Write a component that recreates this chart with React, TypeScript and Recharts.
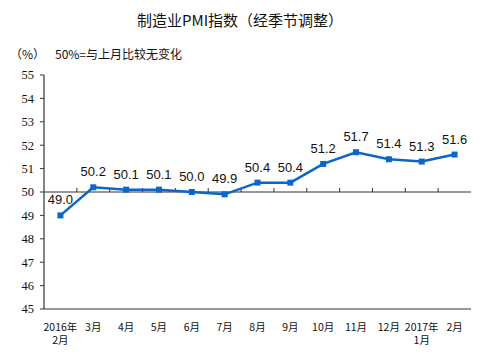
import { LabelList, Line, LineChart, ReferenceLine, XAxis, YAxis } from 'recharts';

const months = [
  '2016年\n2月',
  '3月',
  '4月',
  '5月',
  '6月',
  '7月',
  '8月',
  '9月',
  '10月',
  '11月',
  '12月',
  '2017年\n1月',
  '2月',
];

const pmi = [49.0, 50.2, 50.1, 50.1, 50.0, 49.9, 50.4, 50.4, 51.2, 51.7, 51.4, 51.3, 51.6];

const yTicks = [45, 46, 47, 48, 49, 50, 51, 52, 53, 54, 55];

const data = months.map((month, i) => ({ month, pmi: pmi[i] }));

const axisColor = '#333333';
const lineColor = '#0a66c8';

function MonthTick(props: any) {
  const { x, y, payload } = props;
  const lines = String(payload.value).split('\n');
  return (
    <g>
      {lines.map((l, i) => (
        <text
          key={i}
          x={x}
          y={y + 14 + i * 13}
          textAnchor="middle"
          fontSize={10.5}
          fill="#111"
          fontFamily="'Noto Sans CJK SC', sans-serif"
        >
          {l}
        </text>
      ))}
    </g>
  );
}

function SquareDot(props: any) {
  const { cx, cy } = props;
  if (cx == null || cy == null) return null;
  return <rect x={cx - 3} y={cy - 3} width={6} height={6} fill={lineColor} />;
}

function MidLine(props: any) {
  const { x1, y1, x2 } = props;
  const n = months.length;
  const w = (x2 - x1) / n;
  const ticks = [];
  for (let i = 1; i < n; i++) {
    ticks.push(<line key={i} x1={x1 + i * w} x2={x1 + i * w} y1={y1} y2={y1 - 4} stroke={axisColor} strokeWidth={1} />);
  }
  return (
    <g>
      <line x1={x1} x2={x2} y1={y1} y2={y1} stroke={axisColor} strokeWidth={1.2} />
      {ticks}
    </g>
  );
}

export default function App() {
  return (
    <div style={{ position: 'absolute', left: 0, top: 0, width: 490, height: 352, background: '#fff' }}>
      <div
        style={{
          position: 'absolute',
          left: 0,
          width: 480,
          top: 9,
          textAlign: 'center',
          fontSize: 15,
          fontFamily: "'Noto Sans CJK SC', sans-serif",
          color: '#111',
        }}
      >
        制造业PMI指数（经季节调整）
      </div>
      <div
        style={{
          position: 'absolute',
          left: 10,
          top: 45,
          fontSize: 12,
          fontFamily: "'Noto Sans CJK SC', sans-serif",
          color: '#111',
        }}
      >
        （%）
      </div>
      <div
        style={{
          position: 'absolute',
          left: 55,
          top: 45,
          fontSize: 12,
          fontFamily: "'Noto Sans CJK SC', sans-serif",
          color: '#111',
        }}
      >
        50%=与上月比较无变化
      </div>
      <div style={{ position: 'absolute', left: 0, top: 0 }}>
        <LineChart width={490} height={352} data={data} margin={{ top: 75, right: 19, bottom: 0, left: 0 }}>
          <XAxis
            dataKey="month"
            scale="band"
            interval={0}
            tickLine={false}
            axisLine={{ stroke: axisColor, strokeWidth: 1.2 }}
            tick={<MonthTick />}
            height={43}
          />
          <XAxis
            xAxisId="top"
            orientation="top"
            dataKey="month"
            scale="band"
            height={0}
            tick={false}
            tickLine={false}
            axisLine={{ stroke: axisColor, strokeWidth: 1.2 }}
          />
          <YAxis
            domain={[45, 55]}
            ticks={yTicks}
            interval={0}
            width={44}
            tickSize={4}
            tickMargin={6}
            tickLine={{ stroke: axisColor }}
            axisLine={{ stroke: axisColor, strokeWidth: 1.2 }}
            tick={{ fontSize: 12.5, fill: '#111', fontFamily: "'Liberation Serif', serif" }}
          />
          <YAxis
            yAxisId="right"
            orientation="right"
            width={0}
            domain={[45, 55]}
            tick={false}
            tickLine={false}
            axisLine={{ stroke: axisColor, strokeWidth: 1.2 }}
          />
          <ReferenceLine y={50} shape={<MidLine />} />
          <Line
            type="linear"
            dataKey="pmi"
            stroke={lineColor}
            strokeWidth={2.5}
            dot={<SquareDot />}
            activeDot={false}
            isAnimationActive={false}
          >
            <LabelList
              dataKey="pmi"
              position="top"
              offset={11}
              formatter={(v: any) => Number(v).toFixed(1)}
              style={{ fontSize: 13, fill: '#111', fontFamily: "'Liberation Sans', Arial, sans-serif" }}
            />
          </Line>
        </LineChart>
      </div>
    </div>
  );
}
